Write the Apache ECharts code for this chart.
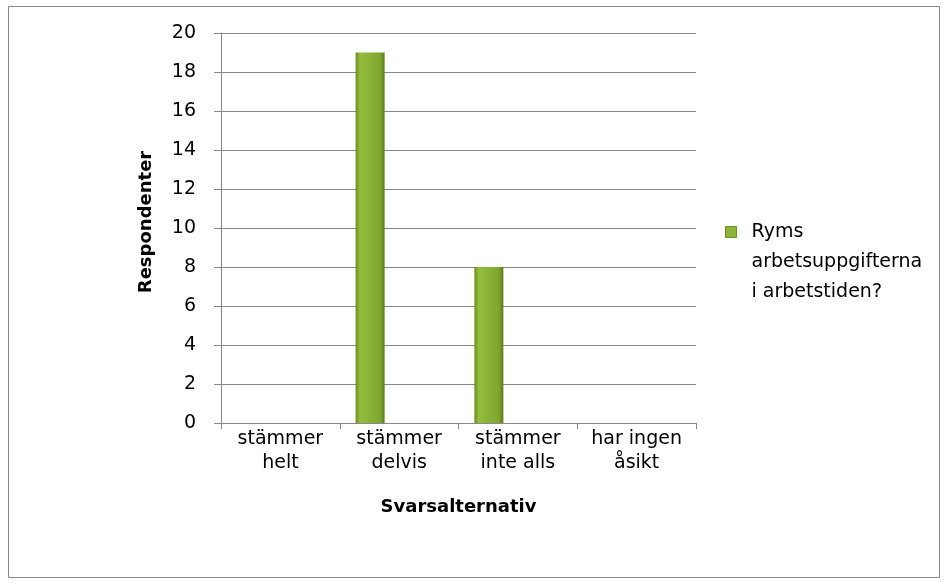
<!DOCTYPE html>
<html><head><meta charset="utf-8">
<script src="https://cdn.jsdelivr.net/npm/echarts@6/dist/echarts.min.js"></script>
<style>html,body{margin:0;padding:0;background:#fff}#c{width:945px;height:583px}</style>
</head><body><div id="c"></div>
<script>
const categories = ['stämmer\nhelt', 'stämmer\ndelvis', 'stämmer\ninte alls', 'har ingen\nåsikt'];
const values = [0, 19, 8, 0];
const seriesName = 'Ryms arbetsuppgifterna i arbetstiden?';
const legendLines = ['Ryms', 'arbetsuppgifterna', 'i arbetstiden?'];
const yTicks = {min: 0, max: 20, interval: 2};
const FONT = '"DejaVu Sans", sans-serif';
const empty = categories.map(() => null);

const chart = echarts.init(document.getElementById('c'));
chart.setOption({
  animation: false,
  textStyle: {fontFamily: FONT},
  graphic: [{type: 'rect', shape: {x: 8.5, y: 6.5, width: 931, height: 571}, style: {fill: 'none', stroke: '#888', lineWidth: 1}}],
  grid: {left: 221, right: 249, top: 33, bottom: 160},
  legend: {
    left: 720, top: 152, orient: 'vertical',
    icon: 'rect', itemWidth: 11, itemHeight: 11,
    formatter: () => '\n\n' + legendLines.join('\n'),
    textStyle: {fontSize: 19, color: '#000', lineHeight: 30, fontFamily: FONT, padding: [0, 0, 0, 10]},
    data: [{name: seriesName, itemStyle: {color: '#8db33a', borderColor: '#6b8c22', borderWidth: 1}}]
  },
  xAxis: {
    type: 'category', data: categories,
    name: 'Svarsalternativ', nameLocation: 'middle', nameGap: 75,
    nameTextStyle: {fontSize: 18, fontWeight: 'bold', color: '#000', fontFamily: FONT},
    axisLine: {lineStyle: {color: '#888'}},
    axisTick: {show: true, length: 6, lineStyle: {color: '#888'}},
    axisLabel: {fontSize: 19, color: '#000', lineHeight: 24, margin: 4, fontFamily: FONT}
  },
  yAxis: {
    type: 'value', min: yTicks.min, max: yTicks.max, interval: yTicks.interval,
    name: 'Respondenter', nameLocation: 'middle', nameGap: 66,
    nameTextStyle: {fontSize: 18, fontWeight: 'bold', color: '#000', fontFamily: FONT, padding: [0, 0, 0, 12]},
    axisLine: {show: true, lineStyle: {color: '#888'}},
    axisTick: {show: true, length: 7, lineStyle: {color: '#888'}},
    axisLabel: {fontSize: 19, color: '#000', margin: 25, fontFamily: FONT},
    splitLine: {lineStyle: {color: '#888', width: 1}}
  },
  series: [{
    type: 'bar', name: seriesName, data: values, barWidth: 29, barGap: '0%',
    itemStyle: {
      color: new echarts.graphic.LinearGradient(0, 0, 1, 0, [
        {offset: 0, color: '#6a8b1f'},
        {offset: 0.15, color: '#95bd3d'},
        {offset: 0.5, color: '#8ab236'},
        {offset: 0.85, color: '#7fa52e'},
        {offset: 1, color: '#5c7b18'}
      ])
    }
  },
  {type: 'bar', name: 'pad1', data: empty, barWidth: 29, barGap: '0%'},
  {type: 'bar', name: 'pad2', data: empty, barWidth: 29, barGap: '0%'}]
});
</script></body></html>
